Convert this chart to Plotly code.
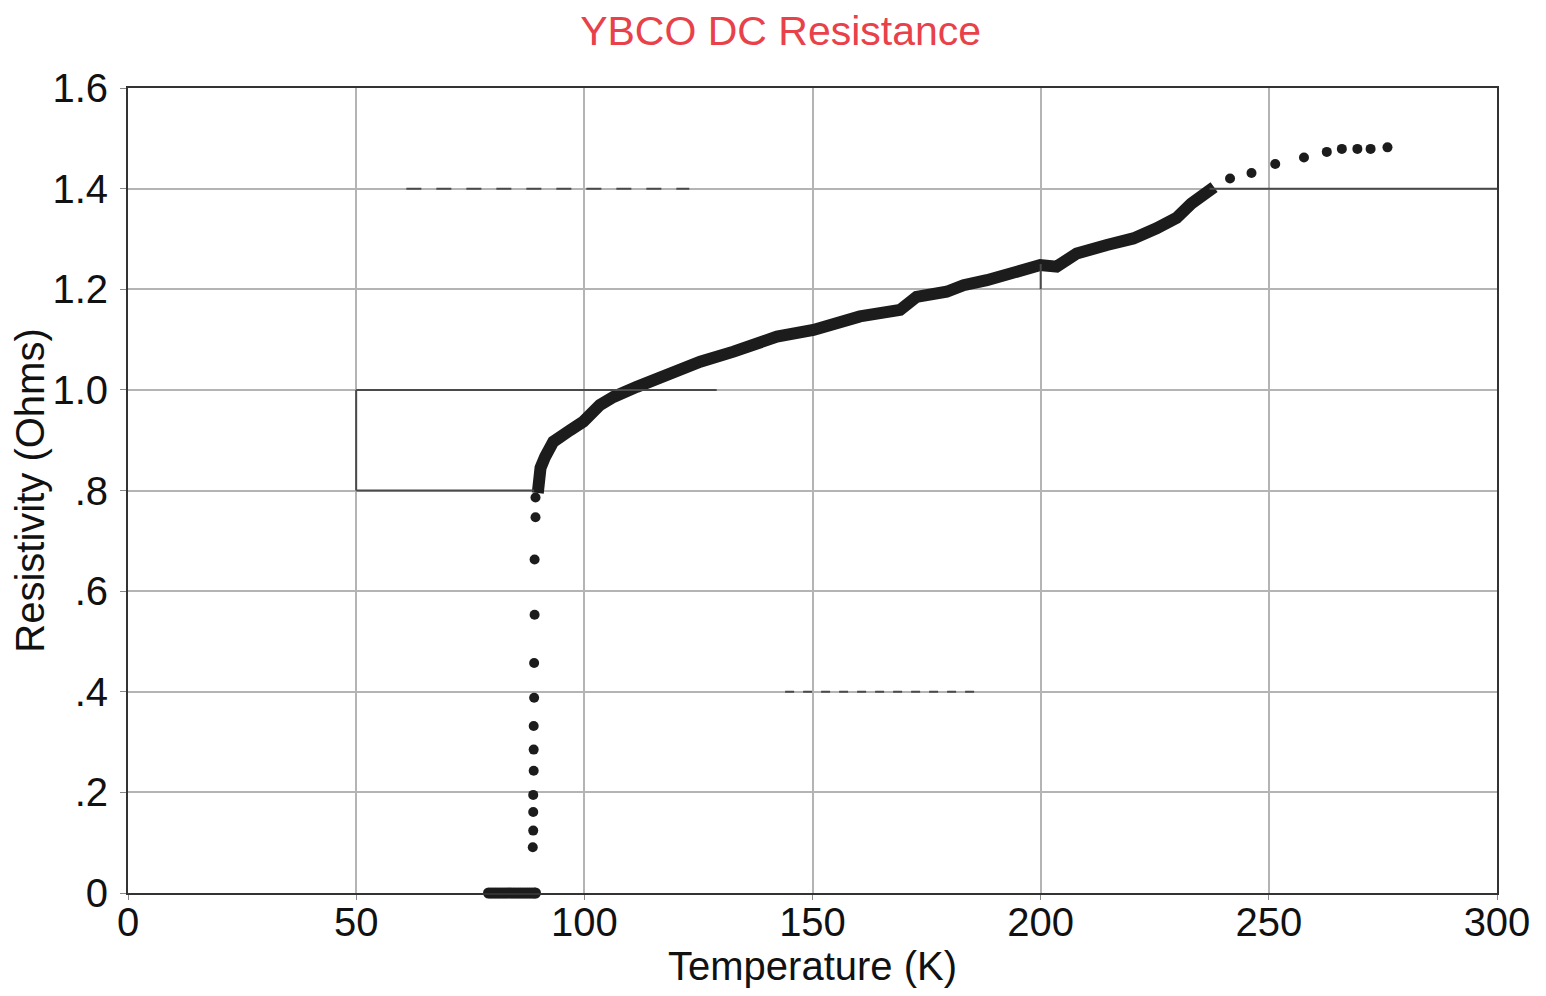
import plotly.graph_objects as go

# ---- data ----
# superconducting (zero-resistance) region
zero_T = [79.0, 79.5, 80.0, 80.5, 81.0, 81.5, 82.0, 82.5, 83.0, 83.5, 84.0, 84.5,
          85.0, 85.5, 86.0, 86.5, 87.0, 87.5, 88.0, 88.5, 89.0, 89.3]
zero_R = [0.0] * len(zero_T)

# transition points
trans_T = [88.7, 88.8, 88.8, 88.8, 88.9, 88.9, 88.9, 89.0, 89.0, 89.1, 89.1, 89.3, 89.3]
trans_R = [0.091, 0.124, 0.161, 0.195, 0.243, 0.285, 0.332, 0.388, 0.457, 0.553, 0.663, 0.747, 0.786]

# dense normal-state curve
curve_T = [89.8, 90.1, 90.4, 91.4, 93.2, 96.9, 99.8, 103.4, 106.4, 111.5, 116.6, 122.4,
           125.4, 132.7, 142.2, 150.2, 160.4, 169.2, 172.8, 179.4, 183.1, 188.2, 194.8,
           199.9, 203.5, 207.9, 214.5, 220.3, 225.4, 229.8, 233.0, 235.5, 238.0]
curve_R = [0.795, 0.82, 0.845, 0.867, 0.897, 0.920, 0.937, 0.970, 0.986, 1.006, 1.026, 1.043,
           1.056, 1.076, 1.106, 1.119, 1.146, 1.159, 1.185, 1.195, 1.208, 1.218, 1.232,
           1.248, 1.245, 1.271, 1.288, 1.301, 1.321, 1.342, 1.370, 1.390, 1.403]

# sparse high-temperature points
sparse_T = [241.5, 246.2, 251.4, 257.7, 262.7, 266.0, 269.4, 272.3, 276.0]
sparse_R = [1.420, 1.431, 1.449, 1.462, 1.473, 1.479, 1.479, 1.479, 1.482]

x_ticks = [0, 50, 100, 150, 200, 250, 300]
y_ticks = [0, 0.2, 0.4, 0.6, 0.8, 1.0, 1.2, 1.4, 1.6]
y_ticktext = ["0", ".2", ".4", ".6", ".8", "1.0", "1.2", "1.4", "1.6"]

FONT = "Liberation Sans, Arial, Helvetica, sans-serif"
INK = "#1c1c1c"
GRID = "#b4b4b4"
DARKGRID = "#4a4a4a"

fig = go.Figure()
fig.add_trace(go.Scatter(x=zero_T, y=zero_R, mode="markers", cliponaxis=False,
                         marker=dict(size=11, color=INK, symbol="circle"), showlegend=False))
fig.add_trace(go.Scatter(x=trans_T, y=trans_R, mode="markers",
                         marker=dict(size=10, color=INK, symbol="circle"), showlegend=False))
fig.add_trace(go.Scatter(x=curve_T, y=curve_R, mode="lines",
                         line=dict(color=INK, width=12), showlegend=False))
fig.add_trace(go.Scatter(x=sparse_T, y=sparse_R, mode="markers",
                         marker=dict(size=10, color=INK, symbol="circle"), showlegend=False))

# darker grid segments visible in the reference scan
dark_segments = [
    dict(x0=237, x1=300, y0=1.4, y1=1.4, dash="solid"),
    dict(x0=50, x1=129, y0=1.0, y1=1.0, dash="solid"),
    dict(x0=50, x1=89, y0=0.8, y1=0.8, dash="solid"),
    dict(x0=50, x1=50, y0=0.8, y1=1.0, dash="solid"),
    dict(x0=200, x1=200, y0=1.2, y1=1.25, dash="solid"),
    dict(x0=61, x1=123, y0=1.4, y1=1.4, dash="longdash"),
    dict(x0=144, x1=186, y0=0.4, y1=0.4, dash="dash"),
]
for s in dark_segments:
    fig.add_shape(type="line", xref="x", yref="y", layer="above",
                  x0=s["x0"], x1=s["x1"], y0=s["y0"], y1=s["y1"],
                  line=dict(color=DARKGRID, width=2, dash=s["dash"]))

fig.update_layout(
    width=1530, height=980,
    margin=dict(l=120, r=41, t=80, b=95),
    paper_bgcolor="white", plot_bgcolor="white",
    font=dict(family=FONT, size=40, color="#111"),
    title=dict(text="YBCO DC Resistance", x=0.505, xanchor="center",
               y=0.977, yanchor="middle", yref="container",
               font=dict(family=FONT, size=41, color="#e8414a")),
)
fig.update_xaxes(
    range=[0, 300], tickvals=x_ticks, ticktext=[str(v) for v in x_ticks],
    showgrid=True, gridcolor=GRID, gridwidth=2,
    showline=True, linecolor="#333", linewidth=2, mirror=True,
    ticks="outside", ticklen=5, tickcolor="#888", zeroline=False,
    ticklabelstandoff=-12, automargin=False,
    tickfont=dict(family=FONT, size=40, color="#111"),
    title=dict(text="Temperature (K)", standoff=26,
               font=dict(family=FONT, size=40, color="#111")),
)
fig.update_yaxes(
    range=[0, 1.6], tickvals=y_ticks, ticktext=y_ticktext,
    showgrid=True, gridcolor=GRID, gridwidth=2,
    showline=True, linecolor="#333", linewidth=2, mirror=True,
    ticks="outside", ticklen=6, tickcolor="#888", zeroline=False,
    ticklabelstandoff=4, automargin=False,
    tickfont=dict(family=FONT, size=40, color="#111"),
    title=dict(text="Resistivity (Ohms)", standoff=7,
               font=dict(family=FONT, size=40, color="#111")),
)

fig.write_html("out.html")
